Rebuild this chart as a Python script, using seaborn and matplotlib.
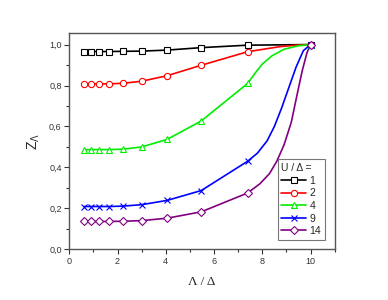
import matplotlib
matplotlib.use("Agg")
import matplotlib.pyplot as plt
from matplotlib.lines import Line2D
from matplotlib.ticker import MultipleLocator, FuncFormatter
import numpy as np
import seaborn as sns

# Λ/Δ values where the computed points sit
lam = [0.61, 0.90, 1.22, 1.65, 2.23, 3.00, 4.06, 5.47, 7.39, 10.0]

# Z_Λ for each U/Δ
z_1 = [0.966, 0.966, 0.966, 0.966, 0.967, 0.968, 0.973, 0.985, 0.997, 1.0]
z_2 = [0.808, 0.808, 0.808, 0.808, 0.811, 0.821, 0.848, 0.899, 0.965, 1.0]
z_4 = [0.487, 0.487, 0.487, 0.487, 0.489, 0.500, 0.537, 0.627, 0.810, 1.0]
z_9 = [0.209, 0.209, 0.209, 0.209, 0.211, 0.218, 0.239, 0.287, 0.430, 1.0]
z_14 = [0.136, 0.136, 0.136, 0.136, 0.137, 0.140, 0.152, 0.183, 0.275, 1.0]

# extra points read along the drawn curves between the last two markers
tail_x_2 = [8.2, 8.75, 9.4]
tail_y_2 = [0.980, 0.990, 0.997]
tail_x_4 = [7.7, 8.0, 8.4, 8.9, 9.45]
tail_y_4 = [0.860, 0.905, 0.945, 0.977, 0.993]
tail_x_9 = [7.8, 8.2, 8.5, 8.8, 9.1, 9.4, 9.7]
tail_y_9 = [0.47, 0.53, 0.60, 0.69, 0.79, 0.89, 0.97]
tail_x_14 = [7.9, 8.3, 8.6, 8.9, 9.2, 9.45, 9.65, 9.85]
tail_y_14 = [0.32, 0.37, 0.43, 0.51, 0.62, 0.76, 0.87, 0.96]

labels = ["1", "2", "4", "9", "14"]
series = [
    (z_1, [], []),
    (z_2, tail_x_2, tail_y_2),
    (z_4, tail_x_4, tail_y_4),
    (z_9, tail_x_9, tail_y_9),
    (z_14, tail_x_14, tail_y_14),
]
colors = ["#000000", "#ff0000", "#00ee00", "#0000ff", "#800080"]
markers = ["s", "o", "^", "x", "D"]
msizes = [4, 4.5, 5, 4.5, 4]

sns.set_theme(style="ticks")
plt.rcParams['font.family'] = ['Liberation Sans', 'DejaVu Sans']

fig = plt.figure(figsize=(3.88, 3.0), dpi=100)
ax = fig.add_axes([0.1786, 0.169, 0.684, 0.72])

for (z, tx, ty), c, m, ms in zip(series, colors, markers, msizes):
    lx = np.array(lam + tx)
    ly = np.array(z + ty)
    order = np.argsort(lx)
    sns.lineplot(x=lx[order], y=ly[order], color=c, linewidth=1.2, ax=ax,
                 sort=False, estimator=None)
    ax.plot(lam, z, linestyle="none", marker=m, markersize=ms,
            markerfacecolor="white", markeredgecolor=c, markeredgewidth=0.8,
            color=c, zorder=3)

ax.set_xlim(0, 11)
ax.set_ylim(0, 1.055)
ax.xaxis.set_major_locator(MultipleLocator(2))
ax.xaxis.set_minor_locator(MultipleLocator(1))
ax.yaxis.set_major_locator(MultipleLocator(0.2))
ax.yaxis.set_minor_locator(MultipleLocator(0.1))
ax.yaxis.set_major_formatter(FuncFormatter(lambda v, p: f"{v:.1f}".replace(".", ",")))
ax.tick_params(axis="both", which="major", direction="out", length=3.5, width=0.8,
               labelsize=6.5, colors="#333333", pad=2)
ax.tick_params(axis="both", which="minor", direction="out", length=2, width=0.8,
               colors="#333333")
for s in ax.spines.values():
    s.set_color("#555555")
    s.set_linewidth(1.0)

ax.set_xlabel("Λ / Δ", family="Liberation Serif", fontsize=9.5, labelpad=7)
ax.set_ylabel(r"$\mathregular{Z_\Lambda}$", fontsize=10, labelpad=5)

handles = [Line2D([], [], color=c, marker=m, markersize=ms, markerfacecolor="white",
                  markeredgecolor=c, markeredgewidth=0.8, linewidth=1.2)
           for c, m, ms in zip(colors, markers, msizes)]
leg = ax.legend(handles, labels, title="U / Δ =", loc="lower right",
                bbox_to_anchor=(0.982, 0.02), fontsize=7.5, title_fontsize=7.5,
                frameon=True, fancybox=False, edgecolor="#555555",
                handlelength=2.4, handletextpad=0.3, labelspacing=0.25,
                borderpad=0.35, alignment="left")
leg.get_frame().set_linewidth(0.8)

fig.savefig("out.png", dpi=100)
